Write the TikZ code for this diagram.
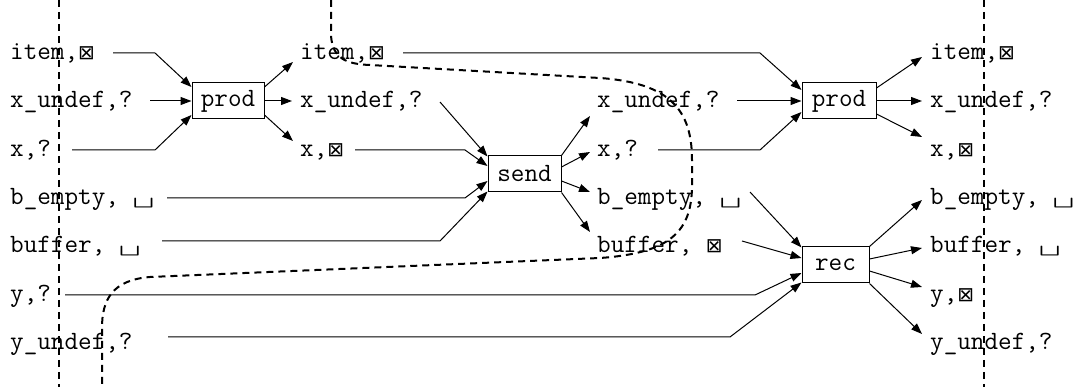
\documentclass[tikz,border=0pt]{standalone}
\usepackage{fontspec}
\newfontfamily\symfont{DejaVu Sans}
\usetikzlibrary{arrows.meta}
\newcommand{\lbfont}{\ttfamily\fontsize{26.4}{30}\selectfont}
\newcommand{\full}{{\symfont\fontsize{20}{20}\selectfont ⊠}}
\newcommand{\blank}{\scalebox{1.6}[1]{␣}}
\tikzset{
  lbl/.style={anchor=base west, inner sep=0pt, font=\lbfont},
  proc/.style={draw, line width=1pt, minimum height=36pt, inner sep=0pt, font=\lbfont},
  flow/.style={line width=1pt, -{Triangle[length=11pt,width=8pt]}},
  cut/.style={line width=2pt, dash pattern=on 7pt off 5pt},
}
\begin{document}
\begin{tikzpicture}[x=1pt,y=-1pt]
\useasboundingbox (0,0) rectangle (1080,387);

% --- state labels, left column
\node[lbl] (L1) at (10,60)  {item,\full};
\node[lbl] (L2) at (10,108) {x\_undef,?};
\node[lbl] (L3) at (10,157) {x,?};
\node[lbl] (L4) at (10,205) {b\_empty, \blank};
\node[lbl] (L5) at (10,253) {buffer, \blank};
\node[lbl] (L6) at (10,302) {y,?};
\node[lbl] (L7) at (10,350) {y\_undef,?};

% --- after the first prod
\node[lbl] (M1) at (300,60)  {item,\full};
\node[lbl] (M2) at (300,108) {x\_undef,?};
\node[lbl] (M3) at (300,157) {x,\full};

% --- after send
\node[lbl] (C2) at (597,108) {x\_undef,?};
\node[lbl] (C3) at (597,157) {x,?};
\node[lbl] (C4) at (597,205) {b\_empty, \blank};
\node[lbl] (C5) at (597,253) {buffer, \full};

% --- right column
\node[lbl] (R1) at (930,60)  {item,\full};
\node[lbl] (R2) at (930,108) {x\_undef,?};
\node[lbl] (R3) at (930,157) {x,\full};
\node[lbl] (R4) at (930,205) {b\_empty, \blank};
\node[lbl] (R5) at (930,253) {buffer, \blank};
\node[lbl] (R6) at (930,302) {y,\full};
\node[lbl] (R7) at (930,350) {y\_undef,?};

% --- processes
\node[proc, minimum width=72pt] (P1) at (228,101) {prod};
\node[proc, minimum width=73pt] (S)  at (524.5,174) {send};
\node[proc, minimum width=74pt] (P2) at (839,101) {prod};
\node[proc, minimum width=67pt] (Rc) at (835.5,265) {rec};

% --- first prod
\draw[flow] ([xshift=103pt,yshift=7pt]L1.base west) -- ++(42,0) -- ([yshift=14pt]P1.west);
\draw[flow] ([xshift=140pt,yshift=7pt]L2.base west) -- (P1.west);
\draw[flow] ([xshift=62pt,yshift=7pt]L3.base west) -- ++(83,0) -- ([yshift=-14pt]P1.west);
\draw[flow] ([yshift=14pt]P1.east) -- ([xshift=-7pt,yshift=-2pt]M1.base west);
\draw[flow] (P1.east) -- ([xshift=-8pt,yshift=7pt]M2.base west);
\draw[flow] ([yshift=-14pt]P1.east) -- ([xshift=-7pt,yshift=16pt]M3.base west);

% --- send
\draw[flow] ([xshift=140pt,yshift=6pt]M2.base west) -- ([yshift=-1pt]S.north west);
\draw[flow] ([xshift=55pt,yshift=7pt]M3.base west) -- ++(110,0) -- ([yshift=8pt]S.west);
\draw[flow] ([xshift=157pt,yshift=7pt]L4.base west) -- ++(298,0) -- ([yshift=-7pt]S.west);
\draw[flow] ([xshift=152pt,yshift=12pt]L5.base west) -- ++(278,0) -- ([yshift=1pt]S.south west);
\draw[flow] (S.north east) -- ([xshift=-7pt,yshift=-8pt]C2.base west);
\draw[flow] ([yshift=7pt]S.east) -- ([xshift=-7pt,yshift=5pt]C3.base west);
\draw[flow] ([yshift=-7pt]S.east) -- ([xshift=-7pt,yshift=13pt]C4.base west);
\draw[flow] (S.south east) -- ([xshift=-7pt,yshift=21pt]C5.base west);

% --- second prod
\draw[flow] ([xshift=103pt,yshift=7pt]M1.base west) -- ++(357,0) -- ([yshift=11pt]P2.west);
\draw[flow] ([xshift=140pt,yshift=7pt]C2.base west) -- (P2.west);
\draw[flow] ([xshift=61pt,yshift=7pt]C3.base west) -- ++(102,0) -- ([yshift=-11pt]P2.west);
\draw[flow] ([yshift=13pt]P2.east) -- ([xshift=-8pt,yshift=3pt]R1.base west);
\draw[flow] (P2.east) -- ([xshift=-8pt,yshift=7pt]R2.base west);
\draw[flow] ([yshift=-13pt]P2.east) -- ([xshift=-8pt,yshift=20pt]R3.base west);

% --- rec
\draw[flow] ([xshift=153pt,yshift=13pt]C4.base west) -- ([yshift=-1pt]Rc.north west);
\draw[flow] ([xshift=145pt,yshift=12pt]C5.base west) -- ([yshift=7pt]Rc.west);
\draw[flow] ([xshift=55pt,yshift=7pt]L6.base west) -- ++(690,0) -- ([yshift=-8pt]Rc.west);
\draw[flow] ([xshift=158pt,yshift=13pt]L7.base west) -- ++(562,0) -- ([yshift=1pt]Rc.south west);
\draw[flow] (Rc.north east) -- ([xshift=-8pt,yshift=5pt]R4.base west);
\draw[flow] ([yshift=6pt]Rc.east) -- ([xshift=-8pt,yshift=5pt]R5.base west);
\draw[flow] ([yshift=-6pt]Rc.east) -- ([xshift=-8pt,yshift=15pt]R6.base west);
\draw[flow] (Rc.south east) -- ([xshift=-8pt,yshift=16pt]R7.base west);

% --- cuts
\draw[cut] (59,0) -- (59,387);
\draw[cut] (984,0) -- (984,387);
\draw[cut] (331,0) -- (331,36)
  .. controls (333,58) and (345,64) .. (370,65)
  -- (600,78)
  .. controls (670,83) and (692,110) .. (692,160)
  -- (692,185)
  .. controls (692,232) and (670,253) .. (600,258)
  -- (150,277)
  .. controls (112,280) and (102,300) .. (102,328)
  -- (102,387);
\end{tikzpicture}
\end{document}
